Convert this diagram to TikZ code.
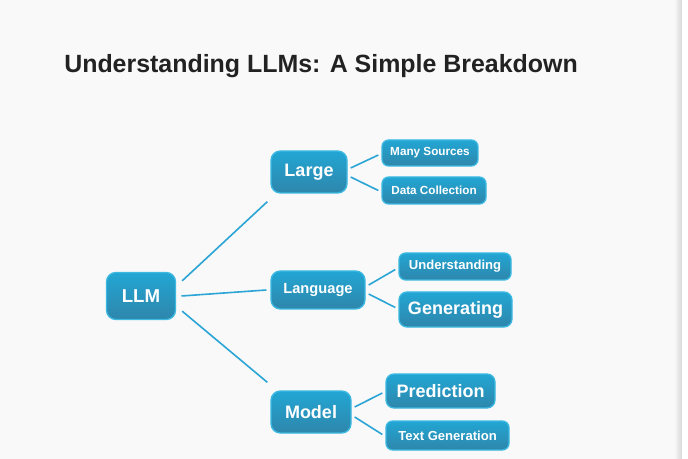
\documentclass[tikz,border=0pt]{standalone}
\usepackage{fontspec}
\setmainfont{Liberation Sans}
\begin{document}
\begin{tikzpicture}[x=0.75pt,y=-0.75pt,
  box/.style={draw={rgb,255:red,60;green,185;blue,225}, line width=1pt, rounded corners=7pt, top color=boxtop, bottom color=boxbot,
    text=white, font=\bfseries, inner sep=0pt, anchor=center},
  link/.style={draw=linkc, line width=1.2pt}]
\definecolor{boxtop}{HTML}{22A6D4}
\definecolor{boxbot}{HTML}{2E86AB}
\definecolor{linkc}{HTML}{2AA5D6}
\useasboundingbox (0,0) rectangle (688,459);
\fill[fill={rgb,255:red,249;green,249;blue,249}] (0,0) rectangle (688,459);
\shade[left color={rgb,255:red,249;green,249;blue,249}, right color={rgb,255:red,215;green,215;blue,215}] (674,0) rectangle (682,459);
\fill[white] (682,0) rectangle (688,459);
\node[anchor=base west, inner sep=0pt, font=\bfseries\fontsize{18.7pt}{20pt}\selectfont, text={rgb,255:red,34;green,34;blue,34}] (title) at (64,73) {Understanding LLMs: A Simple Breakdown};
\node[box, minimum width=51.75pt, minimum height=35.25pt, font=\bfseries\fontsize{14pt}{16pt}\selectfont] (llm) at (141,296) {LLM};
\node[box, minimum width=57pt, minimum height=31.5pt, font=\bfseries\fontsize{13.5pt}{15pt}\selectfont] (large) at (309,172) {Large};
\node[box, minimum width=70.5pt, minimum height=28.5pt, font=\bfseries\fontsize{11pt}{13pt}\selectfont] (lang) at (318,290) {Language};
\node[box, minimum width=60pt, minimum height=31.5pt, font=\bfseries\fontsize{13.5pt}{15pt}\selectfont] (model) at (311,412) {Model};
\node[box, rounded corners=5pt, minimum width=72pt, minimum height=19.5pt, font=\bfseries\fontsize{8.8pt}{10pt}\selectfont] (many) at (430,153) {Many Sources};
\node[box, rounded corners=5pt, minimum width=78pt, minimum height=20.25pt, font=\bfseries\fontsize{8.8pt}{10pt}\selectfont] (data) at (434,190.5) {Data Collection};
\node[box, rounded corners=5pt, minimum width=84pt, minimum height=20.25pt, font=\bfseries\fontsize{9.8pt}{11pt}\selectfont] (und) at (455,266.5) {Understanding};
\node[box, rounded corners=6pt, minimum width=84.75pt, minimum height=26.25pt, font=\bfseries\fontsize{13.5pt}{15pt}\selectfont] (gen) at (455.5,309.5) {Generating};
\node[box, rounded corners=6pt, minimum width=81.75pt, minimum height=25.5pt, font=\bfseries\fontsize{13.5pt}{15pt}\selectfont] (pred) at (440.5,391) {Prediction};
\node[box, rounded corners=5pt, minimum width=92.25pt, minimum height=21.75pt, font=\bfseries\fontsize{9.8pt}{11pt}\selectfont] (tg) at (447.5,435.5) {Text Generation};
\draw[link] ([shift={(6,9)}]llm.north east) -- ([shift={(-3,8)}]large.south west);
\draw[link] ([xshift=4pt]llm.east) -- ([xshift=-3pt]lang.west);
\draw[link] ([shift={(6,-9)}]llm.south east) -- ([shift={(-3,-8)}]model.north west);
\draw[link] ([shift={(3,-4)}]large.east) -- ([shift={(-3,2)}]many.west);
\draw[link] ([shift={(3,5)}]large.east) -- ([shift={(-3,0)}]data.west);
\draw[link] ([shift={(3,-5)}]lang.east) -- ([shift={(-3,3)}]und.west);
\draw[link] ([shift={(3,4)}]lang.east) -- ([shift={(-3,-2)}]gen.west);
\draw[link] ([shift={(3,-5)}]model.east) -- ([shift={(-3,2)}]pred.west);
\draw[link] ([shift={(3,5)}]model.east) -- ([shift={(-3,-1)}]tg.west);
\end{tikzpicture}
\end{document}
